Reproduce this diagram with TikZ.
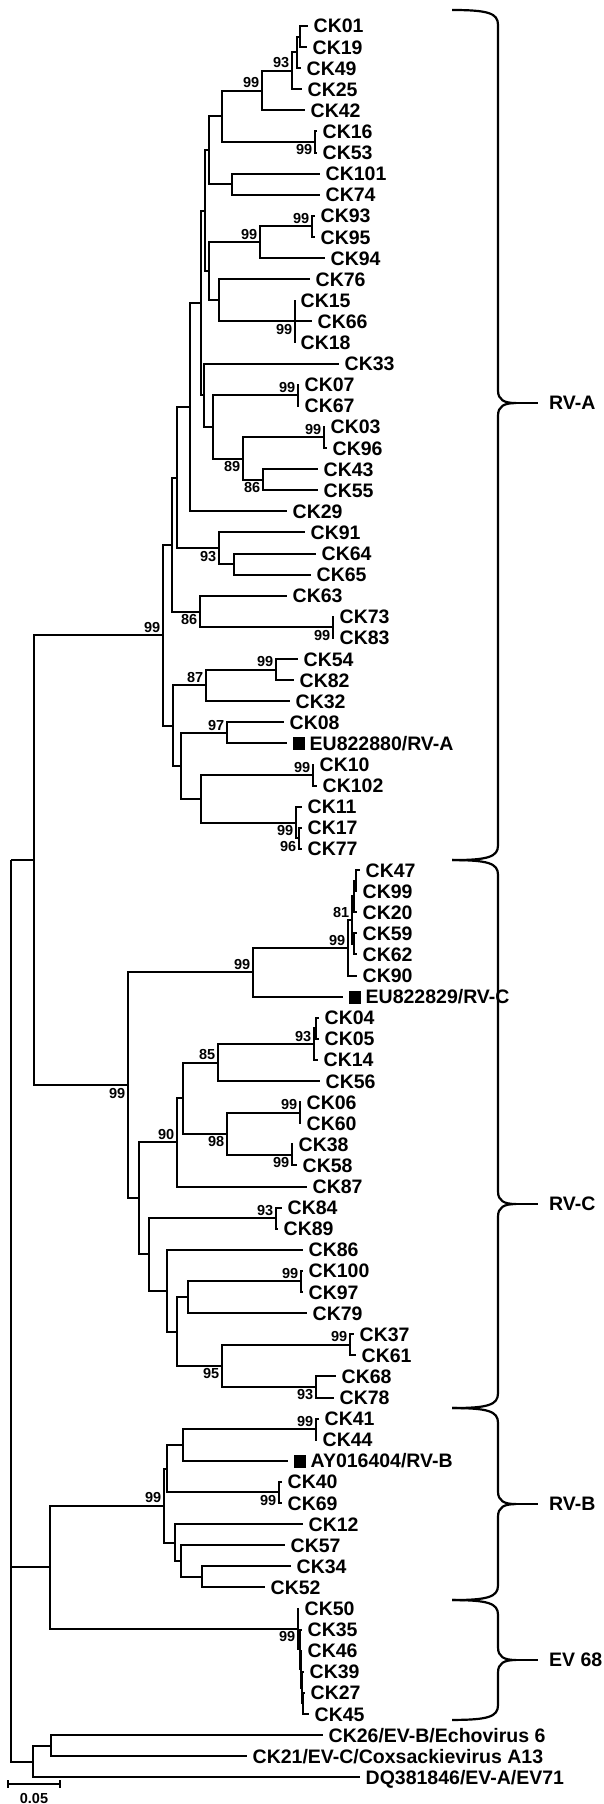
\documentclass[tikz,border=0pt]{standalone}
\usepackage{fontspec}
\setmainfont{Liberation Sans}
\newcommand{\tipsq}{\rule{12.5pt}{13pt}\hspace{4.5pt}}
% clade brace: top, cusp, bottom (in leaf rows)
\newcommand{\cladebrace}[3]{%
  \draw[bracket] (452,#1) .. controls (488,#1) and (498,{#1+0.15}) .. (498,{#1+0.7})
    -- (498,{#2-0.6}) .. controls (498,{#2-0.15}) and (504,#2) .. (516,#2)
    .. controls (504,#2) and (498,{#2+0.15}) .. (498,{#2+0.6})
    -- (498,{#3-0.7}) .. controls (498,{#3-0.15}) and (488,#3) .. (452,#3);}
\begin{document}
\begin{tikzpicture}[x=1pt, y=-21.1pt,
    leaf/.style={font=\fontsize{19.5}{20}\selectfont\bfseries, anchor=west, inner xsep=5.5pt, inner ysep=0pt, text height=14pt, text depth=0pt},
    boot/.style={font=\fontsize{14.5}{15}\selectfont\bfseries, inner sep=2.5pt},
    clade/.style={font=\fontsize{19.5}{20}\selectfont\bfseries, anchor=west, inner xsep=11pt},
    branch/.style={line width=2pt, line join=miter},
    bracket/.style={line width=2.2pt}]
\useasboundingbox (0,-1.2322) rectangle (603,84.265);

\foreach \i/\x/\n in {0/308/CK01, 1/307/CK19, 2/301/CK49, 3/302/CK25, 4/305/CK42, 5/317/CK16, 6/317/CK53,
    7/320/CK101, 8/320/CK74, 9/315/CK93, 10/315/CK95, 11/325/CK94, 12/310/CK76, 13/295/CK15, 14/312/CK66,
    15/295/CK18, 16/339/CK33, 17/299/CK07, 18/299/CK67, 19/325/CK03, 20/327/CK96, 21/318/CK43, 22/318/CK55,
    23/287/CK29, 24/305/CK91, 25/316/CK64, 26/311/CK65, 27/287/CK63, 28/334/CK73, 29/334/CK83, 30/298/CK54,
    31/294/CK82, 32/290/CK32, 33/284/CK08, 35/314/CK10, 36/317/CK102, 37/302/CK11, 38/302/CK17, 39/302/CK77,
    40/360/CK47, 41/357/CK99, 42/357/CK20, 43/357/CK59, 44/357/CK62, 45/357/CK90, 47/319/CK04, 48/319/CK05,
    49/318/CK14, 50/320/CK56, 51/301/CK06, 52/301/CK60, 53/293/CK38, 54/297/CK58, 55/307/CK87, 56/282/CK84,
    57/278/CK89, 58/303/CK86, 59/303/CK100, 60/303/CK97, 61/307/CK79, 62/354/CK37, 63/356/CK61, 64/336/CK68,
    65/334/CK78, 66/319/CK41, 67/317/CK44, 69/282/CK40, 70/282/CK69, 71/303/CK12, 72/285/CK57, 73/291/CK34,
    74/265/CK52, 75/299/CK50, 76/302/CK35, 77/302/CK46, 78/304/CK39, 79/305/CK27, 80/309/CK45}
  {\coordinate (t\n) at (\x,\i);
   \node[leaf] (l\n) at (t\n) {\n};}

\coordinate (tEU80) at (287,34);
\node[leaf] (lEU80) at (tEU80) {\tipsq EU822880/RV-A};
\coordinate (tEU29) at (343,46);
\node[leaf] (lEU29) at (tEU29) {\tipsq EU822829/RV-C};
\coordinate (tAY) at (288,68);
\node[leaf] (lAY) at (tAY) {\tipsq AY016404/RV-B};
\coordinate (tCK26) at (323,81);
\node[leaf] (lCK26) at (tCK26) {CK26/EV-B/Echovirus 6};
\coordinate (tCK21) at (247,82);
\node[leaf] (lCK21) at (tCK21) {CK21/EV-C/Coxsackievirus A13};
\coordinate (tDQ) at (360,83);
\node[leaf] (lDQ) at (tDQ) {DQ381846/EV-A/EV71};

\foreach \n/\x/\k in {c3/300/0.5, c2/297/1.25, n93/292/2.125, n99a/262/3.0625, n16/315/5.5, nA/222/4.28,
    nC/232/7.5, nB/209/5.89, nF/312/9.5, nE/260/10.25, nH/295/14, nG/219/13, nD/209/11.625, nK/205/8.758,
    nP/298/17.5, nR/324/19.5, nS/263/21.5, nQ/243/20.5, nN/213/19, nM/204/17.5, nL/201/13.129, nT/190/18.06,
    nW/234/25.5, nV/219/24.75, nU/177/21.41, nZ/333/28.5, nY/200/27.75, nX/172/24.58, nAC/276/30.5,
    nAB/206/31.25, nAE/227/33.5, nAG/313/35.5, nAI/299/38.5, nAH/296/37.75, nAF/201/36.625, nAD/181/35.06,
    nAA/173/33.16, rva/163/28.87,
    nc/356/40.5, na/354/41.25, nb/354/43.5, n81/352/42.375, rvc2/348/43.69, rvc1/253/44.84, n04/316/47.5,
    n93c/314/48.25, n85/218/49.125, n06/300/51.5, n38/292/53.5, n98/227/52.5, nx/183/50.81, n90/177/52.9,
    n84/276/56.5, n100a/301/59.5, n100/188/60.25, n37/350/62.5, n68/316/64.5, n95/222/63.5, n176/177/61.875,
    n166/167/59.94, n149/149/58.22, n139/139/55.56, rvc/128/50.2, rvac/34/39.53,
    n41/316/66.5, nB1/183/67.25, n40/279/69.5, nAp/167/68.375, n34/202/73.5, n57/181/72.75, n12/175/71.875,
    rvb/164/70.125, e5/302.5/79.5, e4/301.5/78.75, e3/300.5/77.875, e2/299.5/76.94, ev/298/75.97,
    bev/50/73.05, n26/51/81.5, nout/33/82.25, root/11/39.53}
  \coordinate (\n) at (\x,\k);

\foreach \p/\c in {c3/tCK01, c3/tCK19, c2/c3, c2/tCK49, n93/c2, n93/tCK25, n99a/n93, n99a/tCK42,
    n16/tCK16, n16/tCK53, nA/n99a, nA/n16, nC/tCK101, nC/tCK74, nB/nA, nB/nC, nF/tCK93, nF/tCK95,
    nE/nF, nE/tCK94, nH/tCK15, nH/tCK66, nH/tCK18, nG/tCK76, nG/nH, nD/nE, nD/nG, nK/nB, nK/nD,
    nP/tCK07, nP/tCK67, nR/tCK03, nR/tCK96, nS/tCK43, nS/tCK55, nQ/nR, nQ/nS, nN/nP, nN/nQ,
    nM/tCK33, nM/nN, nL/nK, nL/nM, nT/nL, nT/tCK29, nW/tCK64, nW/tCK65, nV/tCK91, nV/nW, nU/nT, nU/nV,
    nZ/tCK73, nZ/tCK83, nY/tCK63, nY/nZ, nX/nU, nX/nY, nAC/tCK54, nAC/tCK82, nAB/nAC, nAB/tCK32,
    nAE/tCK08, nAE/tEU80, nAG/tCK10, nAG/tCK102, nAI/tCK17, nAI/tCK77, nAH/tCK11, nAH/nAI,
    nAF/nAG, nAF/nAH, nAD/nAE, nAD/nAF, nAA/nAB, nAA/nAD, rva/nX, rva/nAA,
    nc/tCK47, nc/tCK99, na/nc, na/tCK20, nb/tCK59, nb/tCK62, n81/na, n81/nb, rvc2/n81, rvc2/tCK90,
    rvc1/rvc2, rvc1/tEU29, n04/tCK04, n04/tCK05, n93c/n04, n93c/tCK14, n85/n93c, n85/tCK56,
    n06/tCK06, n06/tCK60, n38/tCK38, n38/tCK58, n98/n06, n98/n38, nx/n85, nx/n98, n90/nx, n90/tCK87,
    n84/tCK84, n84/tCK89, n100a/tCK100, n100a/tCK97, n100/n100a, n100/tCK79, n37/tCK37, n37/tCK61,
    n68/tCK68, n68/tCK78, n95/n37, n95/n68, n176/n100, n176/n95, n166/tCK86, n166/n176,
    n149/n84, n149/n166, n139/n90, n139/n149, rvc/rvc1, rvc/n139, rvac/rva, rvac/rvc,
    n41/tCK41, n41/tCK44, nB1/n41, nB1/tAY, n40/tCK40, n40/tCK69, nAp/nB1, nAp/n40,
    n34/tCK34, n34/tCK52, n57/tCK57, n57/n34, n12/tCK12, n12/n57, rvb/nAp, rvb/n12,
    e5/tCK27, e5/tCK45, e4/tCK39, e4/e5, e3/tCK46, e3/e4, e2/tCK35, e2/e3, ev/tCK50, ev/e2,
    bev/rvb, bev/ev, n26/tCK26, n26/tCK21, nout/n26, nout/tDQ, root/rvac, root/bev, root/nout}
  \draw[branch] (\p) |- (\c);

\foreach \n/\v in {n93/93, n99a/99, nF/99, nE/99, nP/99, nR/99, nAC/99, nAB/87, nAE/97, nAG/99, rva/99,
    rvc1/99, rvc2/99, n81/81, n93c/93, n85/85, n06/99, n90/90, n84/93, n100a/99, n37/99, n41/99, rvb/99}
  \node[boot, anchor=south east] (b\n) at (\n) {\v};
\foreach \n/\v in {n16/99, nH/99, nQ/89, nS/86, nV/93, nY/86, nZ/99, nAH/99, nAI/96, n38/99, n98/98,
    n68/93, n95/95, rvc/99, n40/99, ev/99}
  \node[boot, anchor=north east] (b\n) at (\n) {\v};

\cladebrace{-0.758}{17.87}{39.53}
\cladebrace{39.53}{55.83}{65.5}
\cladebrace{65.5}{70.05}{74.6}
\cladebrace{74.6}{77.44}{80.28}
\foreach \c/\k/\t in {cA/17.87/RV-A, cC/55.83/RV-C, cB/70.05/RV-B, cE/77.44/EV 68}
  {\coordinate (\c) at (516,\k);
   \node[clade] (l\c) at (538,\k) {\t};
   \draw[bracket] (\c) -- (l\c.west);}

\coordinate (sb0) at (8,83.32);
\coordinate (sb1) at (60,83.32);
\draw[line width=2pt] (sb0) -- (sb1);
\draw[line width=2pt] ([yshift=4pt]sb0) -- ([yshift=-4pt]sb0);
\draw[line width=2pt] ([yshift=4pt]sb1) -- ([yshift=-4pt]sb1);
\node[boot, anchor=north, inner sep=0pt, yshift=-9pt] (lsb) at (34,83.32) {0.05};
\end{tikzpicture}
\end{document}
